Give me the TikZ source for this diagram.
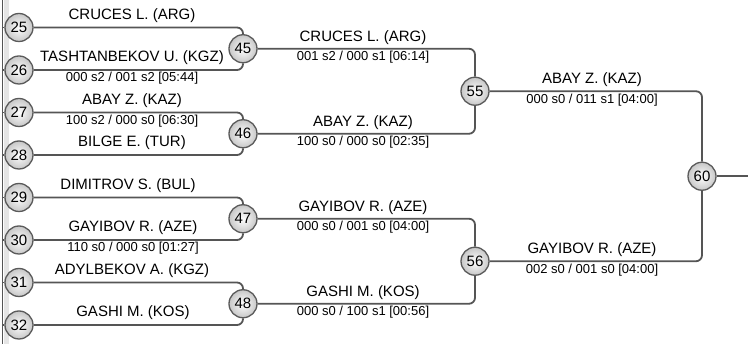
\documentclass[tikz,border=0pt]{standalone}
\usepackage{fontspec}
\setmainfont{Liberation Sans}
\definecolor{linec}{HTML}{555555}
\definecolor{ringc}{HTML}{5A5A5A}
\begin{document}
\begin{tikzpicture}[x=1pt,y=-1pt,
  seed/.style={circle,draw=ringc,line width=1.3pt,minimum size=28pt,inner sep=0pt,
    inner color=white,outer color=black!22,font=\fontsize{15}{15}\selectfont},
  conn/.style={draw=linec,line width=1.8pt,rounded corners=6pt},
  pname/.style={inner sep=0pt,font=\fontsize{15}{15}\selectfont},
  pscore/.style={inner sep=0pt,font=\fontsize{13}{13}\selectfont}]
\useasboundingbox (0,0) rectangle (748,344);
\fill[black!10] (3.5,0) rectangle (8.5,344);
\coordinate (lt) at (2.5,0);
\coordinate (lb) at (2.5,344);
\draw[draw=linec,line width=1.5pt] (lt) -- (lb);
% round 1 seeds
\node[seed] (c25) at (19,27.5) {25};
\node[seed] (c26) at (19,70) {26};
\node[seed] (c27) at (19,112.5) {27};
\node[seed] (c28) at (19,155) {28};
\node[seed] (c29) at (19,197.5) {29};
\node[seed] (c30) at (19,240) {30};
\node[seed] (c31) at (19,282.5) {31};
\node[seed] (c32) at (19,325) {32};
% round 2
\node[seed] (c45) at (243,48.75) {45};
\node[seed] (c46) at (243,133.75) {46};
\node[seed] (c47) at (243,218.75) {47};
\node[seed] (c48) at (243,303.75) {48};
% round 3
\node[seed] (c55) at (475,91.25) {55};
\node[seed] (c56) at (475,261.25) {56};
% final
\node[seed] (c60) at (702,176.25) {60};
\coordinate (out) at (748,176.25);
% stubs from the left line
\foreach \n in {25,...,32}{\draw[draw=linec,line width=1.5pt] (c\n.west) -- (c\n.west -| lt);}
% connectors
\draw[conn] (c25.east) -| (c45.north);
\draw[conn] (c26.east) -| (c45.south);
\draw[conn] (c27.east) -| (c46.north);
\draw[conn] (c28.east) -| (c46.south);
\draw[conn] (c29.east) -| (c47.north);
\draw[conn] (c30.east) -| (c47.south);
\draw[conn] (c31.east) -| (c48.north);
\draw[conn] (c32.east) -| (c48.south);
\draw[conn] (c45.east) -| (c55.north);
\draw[conn] (c46.east) -| (c55.south);
\draw[conn] (c47.east) -| (c56.north);
\draw[conn] (c48.east) -| (c56.south);
\draw[conn] (c55.east) -| (c60.north);
\draw[conn] (c56.east) -| (c60.south);
\draw[conn] (c60.east) -- (out);
% round 1 labels
\node[pname] (n1) at (132,15.5) {CRUCES L. (ARG)};
\node[pname] (n2) at (132,58) {TASHTANBEKOV U. (KGZ)};
\node[pscore] (s1) at (132,78.5) {000 s2 / 001 s2 [05:44]};
\node[pname] (n3) at (132,100.5) {ABAY Z. (KAZ)};
\node[pscore] (s2) at (132,121) {100 s2 / 000 s0 [06:30]};
\node[pname] (n4) at (132,143) {BILGE E. (TUR)};
\node[pname] (n5) at (128,185.5) {DIMITROV S. (BUL)};
\node[pname] (n6) at (133,228) {GAYIBOV R. (AZE)};
\node[pscore] (s3) at (133,248.5) {110 s0 / 000 s0 [01:27]};
\node[pname] (n7) at (132,270.5) {ADYLBEKOV A. (KGZ)};
\node[pname] (n8) at (133,313) {GASHI M. (KOS)};
% round 2 labels
\node[pname] (m1) at (363,37.25) {CRUCES L. (ARG)};
\node[pscore] (t1) at (363,57.5) {001 s2 / 000 s1 [06:14]};
\node[pname] (m2) at (363,122.25) {ABAY Z. (KAZ)};
\node[pscore] (t2) at (363,142.5) {100 s0 / 000 s0 [02:35]};
\node[pname] (m3) at (363,207.25) {GAYIBOV R. (AZE)};
\node[pscore] (t3) at (363,227.5) {000 s0 / 001 s0 [04:00]};
\node[pname] (m4) at (363,292.25) {GASHI M. (KOS)};
\node[pscore] (t4) at (363,312.5) {000 s0 / 100 s1 [00:56]};
% round 3 labels
\node[pname] (f1) at (592,79.75) {ABAY Z. (KAZ)};
\node[pscore] (g1) at (592,100) {000 s0 / 011 s1 [04:00]};
\node[pname] (f2) at (592,249.75) {GAYIBOV R. (AZE)};
\node[pscore] (g2) at (592,270) {002 s0 / 001 s0 [04:00]};
\end{tikzpicture}
\end{document}
